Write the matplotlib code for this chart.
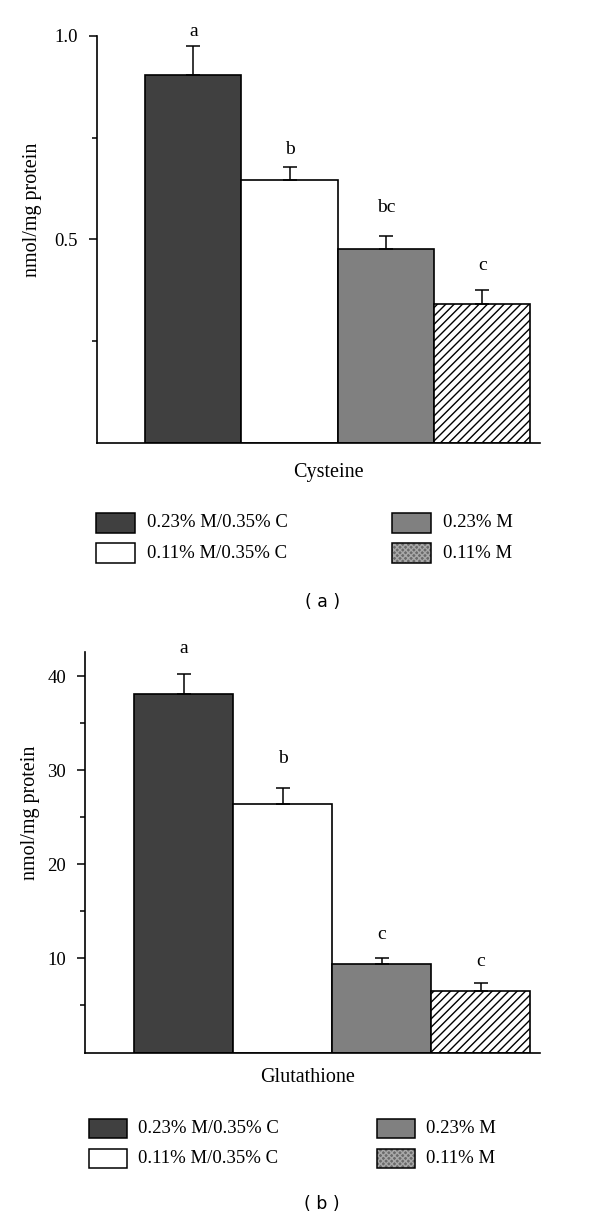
import matplotlib
matplotlib.use("Agg")
import matplotlib.pyplot as plt
from matplotlib.patches import Rectangle
import numpy as np

# ---- data ----
groups = ["0.23% M/0.35% C", "0.11% M/0.35% C", "0.23% M", "0.11% M"]
cys_mean = [0.903, 0.645, 0.476, 0.342]
cys_err = [0.072, 0.033, 0.032, 0.034]
cys_letters = ["a", "b", "bc", "c"]
glu_mean = [38.1, 26.4, 9.43, 6.52]
glu_err = [2.1, 1.7, 0.57, 0.9]
glu_letters = ["a", "b", "c", "c"]

W, H = 600, 1222
DPI = 100
fig = plt.figure(figsize=(W / DPI, H / DPI), dpi=DPI)
SERIF = ["Liberation Serif", "DejaVu Serif"]
plt.rcParams["font.family"] = SERIF

fills = ["#404040", "white", "#808080", "white"]
hatches = [None, None, None, "////"]


def px_axes(l, r, top, bot):
    return fig.add_axes([l / W, 1 - bot / H, (r - l) / W, (bot - top) / H])


def draw_panel(ax, means, errs, letters, ylim, major, minor, fmt, offsets_px):
    x = np.arange(len(means))
    for i in range(len(means)):
        ax.bar(x[i], means[i], width=1.0, color=fills[i], edgecolor="black",
               linewidth=1.2, hatch=hatches[i], zorder=2)
    ax.errorbar(x, means, yerr=[np.zeros(len(errs)), errs], fmt="none",
                ecolor="black", elinewidth=1.1, capsize=5, capthick=1.1, zorder=3)
    for i in range(len(means)):
        ax.annotate(letters[i], (x[i], means[i] + errs[i]),
                    xytext=(0, offsets_px[i] * 72 / DPI), textcoords="offset points",
                    ha="center", va="center", fontsize=14, annotation_clip=False)
    ax.set_xlim(-1.0, 3.6)
    ax.set_ylim(*ylim)
    ax.set_yticks(major)
    ax.set_yticklabels([fmt.format(v) for v in major], fontsize=13.5)
    ax.set_yticks(minor, minor=True)
    ax.set_xticks([])
    for s in ["top", "right"]:
        ax.spines[s].set_visible(False)
    for s in ["left", "bottom"]:
        ax.spines[s].set_linewidth(1.2)
    ax.tick_params(axis="y", which="major", length=5.5, width=1.1, direction="out", pad=8)
    ax.tick_params(axis="y", which="minor", length=3.5, width=1.1, direction="out")
    ax.set_ylabel("nmol/mg protein", fontsize=14.5)


ax1 = px_axes(97, 540, 35.7, 443)
draw_panel(ax1, cys_mean, cys_err, cys_letters, (0, 1.0), [0.5, 1.0], [0.25, 0.75],
           "{:.1f}", [14, 17, 29, 24])
ax1.yaxis.set_label_coords(-0.124, 0.572)

ax2 = px_axes(85, 540, 651.7, 1052.5)
draw_panel(ax2, glu_mean, glu_err, glu_letters, (0, 42.6), [10, 20, 30, 40], [5, 15, 25, 35],
           "{:.0f}", [26, 30, 24, 21])
ax2.yaxis.set_label_coords(-0.099, 0.598)

# overlay axes in pixel coordinates for captions and legends
ov = fig.add_axes([0, 0, 1, 1])
ov.set_xlim(0, W)
ov.set_ylim(H, 0)
ov.axis("off")
ov.patch.set_alpha(0)

ov.text(328, 473, "Cysteine", ha="center", va="center", fontsize=14.5)
ov.text(308, 1078, "Glutathione", ha="center", va="center", fontsize=14.5)
ov.text(323, 602, "( a )", ha="center", va="center", fontsize=12.5, family="DejaVu Sans")
ov.text(322, 1204, "( b )", ha="center", va="center", fontsize=12.5, family="DejaVu Sans")


def legend(x_left, x_right, y_rows, sw, sh, tx_gap):
    order = [(0, x_left, y_rows[0]), (1, x_left, y_rows[1]),
             (2, x_right, y_rows[0]), (3, x_right, y_rows[1])]
    for i, xl, yc in order:
        if i == 3:
            ov.add_patch(Rectangle((xl, yc - sh / 2), sw, sh, facecolor="#6a6a6a",
                                   edgecolor="#a8a8a8", hatch="xxxxxx", linewidth=0))
            ov.add_patch(Rectangle((xl, yc - sh / 2), sw, sh, facecolor="none",
                                   edgecolor="black", linewidth=1.1))
        else:
            ov.add_patch(Rectangle((xl, yc - sh / 2), sw, sh, facecolor=fills[i],
                                   edgecolor="black", linewidth=1.1))
        ov.text(xl + sw + tx_gap, yc, groups[i], ha="left", va="center", fontsize=13.5)


legend(96, 392, [522.7, 553], 39, 20, 12)
legend(89, 377, [1128.7, 1158.7], 38, 19, 11.5)

fig.savefig("out.png", dpi=DPI)
